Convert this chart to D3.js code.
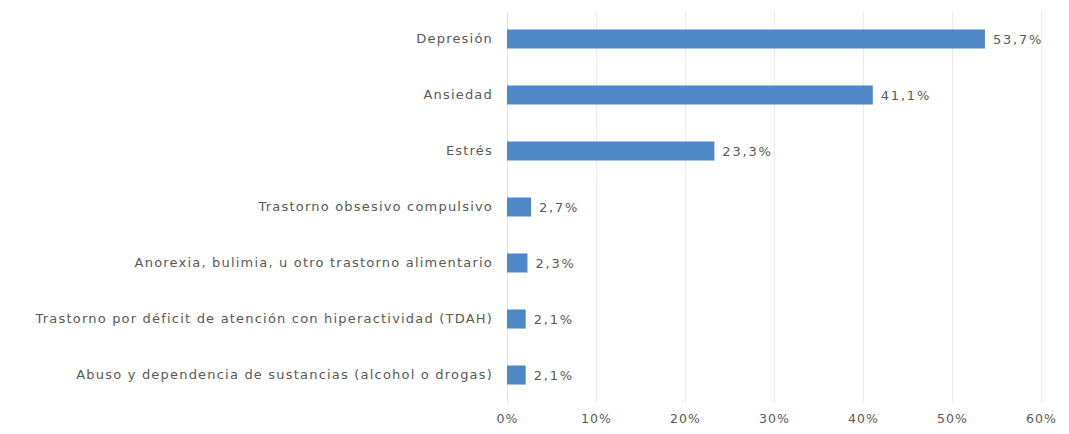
<!DOCTYPE html>
<html>
<head>
<meta charset="utf-8">
<script src="https://cdn.jsdelivr.net/npm/d3@7"></script>
<style>
  html, body { margin: 0; padding: 0; background: #ffffff; }
  svg { display: block; }
  text { font-family: "DejaVu Sans", Verdana, sans-serif; fill: #595959; }
</style>
</head>
<body>
<svg id="chart" width="1069" height="434"></svg>
<script>
// Trastornos declarados (porcentaje)
const categories = [
  "Depresión",
  "Ansiedad",
  "Estrés",
  "Trastorno obsesivo compulsivo",
  "Anorexia, bulimia, u otro trastorno alimentario",
  "Trastorno por déficit de atención con hiperactividad (TDAH)",
  "Abuso y dependencia de sustancias (alcohol o drogas)"
];
const values = [53.7, 41.1, 23.3, 2.7, 2.3, 2.1, 2.1];
const tickValues = [0, 10, 20, 30, 40, 50, 60];

(function draw() {
  const svg = d3.select("#chart");
  const m = { left: 507, right: 1041, top: 11, bottom: 403 };

  const x = d3.scaleLinear().domain([0, 60]).range([m.left, m.right]);
  const y = d3.scaleBand().domain(categories).range([m.top, m.bottom])
    .paddingInner(0.66).paddingOuter(0.33);

  const fmt = v => d3.format(".1f")(v).replace(".", ",") + "%";

  // vertical gridlines
  svg.append("g")
    .selectAll("line")
    .data(tickValues)
    .join("line")
    .attr("x1", d => Math.round(x(d)) + 0.5)
    .attr("x2", d => Math.round(x(d)) + 0.5)
    .attr("y1", m.top)
    .attr("y2", m.bottom)
    .attr("stroke", d => d === 0 ? "#e4e4e4" : "#ececec")
    .attr("stroke-width", 1);

  // x axis labels
  const xAxis = d3.axisBottom(x)
    .tickValues(tickValues)
    .tickSize(0)
    .tickPadding(0)
    .tickFormat(d => d + "%");
  svg.append("g")
    .attr("transform", "translate(0, 414)")
    .call(xAxis)
    .call(g => g.select(".domain").remove())
    .call(g => g.selectAll("text")
      .attr("font-size", "12.5px")
      .attr("letter-spacing", "1px")
      .attr("font-family", "DejaVu Sans, Verdana, sans-serif")
      .attr("fill", "#595959"));

  // y axis labels
  const yAxis = d3.axisLeft(y).tickSize(0).tickPadding(14);
  svg.append("g")
    .attr("transform", `translate(${m.left}, 0)`)
    .call(yAxis)
    .call(g => g.select(".domain").remove())
    .call(g => g.selectAll("text")
      .attr("font-size", "13px")
      .attr("letter-spacing", "1.2px")
      .attr("font-family", "DejaVu Sans, Verdana, sans-serif")
      .attr("fill", "#595959"));

  // bars
  svg.append("g")
    .selectAll("rect")
    .data(categories)
    .join("rect")
    .attr("x", x(0))
    .attr("y", d => y(d))
    .attr("width", (d, i) => x(values[i]) - x(0))
    .attr("height", y.bandwidth())
    .attr("fill", "#4f88c6");

  // value labels
  svg.append("g")
    .selectAll("text")
    .data(categories)
    .join("text")
    .attr("x", (d, i) => x(values[i]) + 8)
    .attr("y", d => y(d) + y.bandwidth() / 2)
    .attr("dy", "0.35em")
    .attr("font-size", "13px")
    .attr("letter-spacing", "1.8px")
    .text((d, i) => fmt(values[i]));
})();
</script>
</body>
</html>
